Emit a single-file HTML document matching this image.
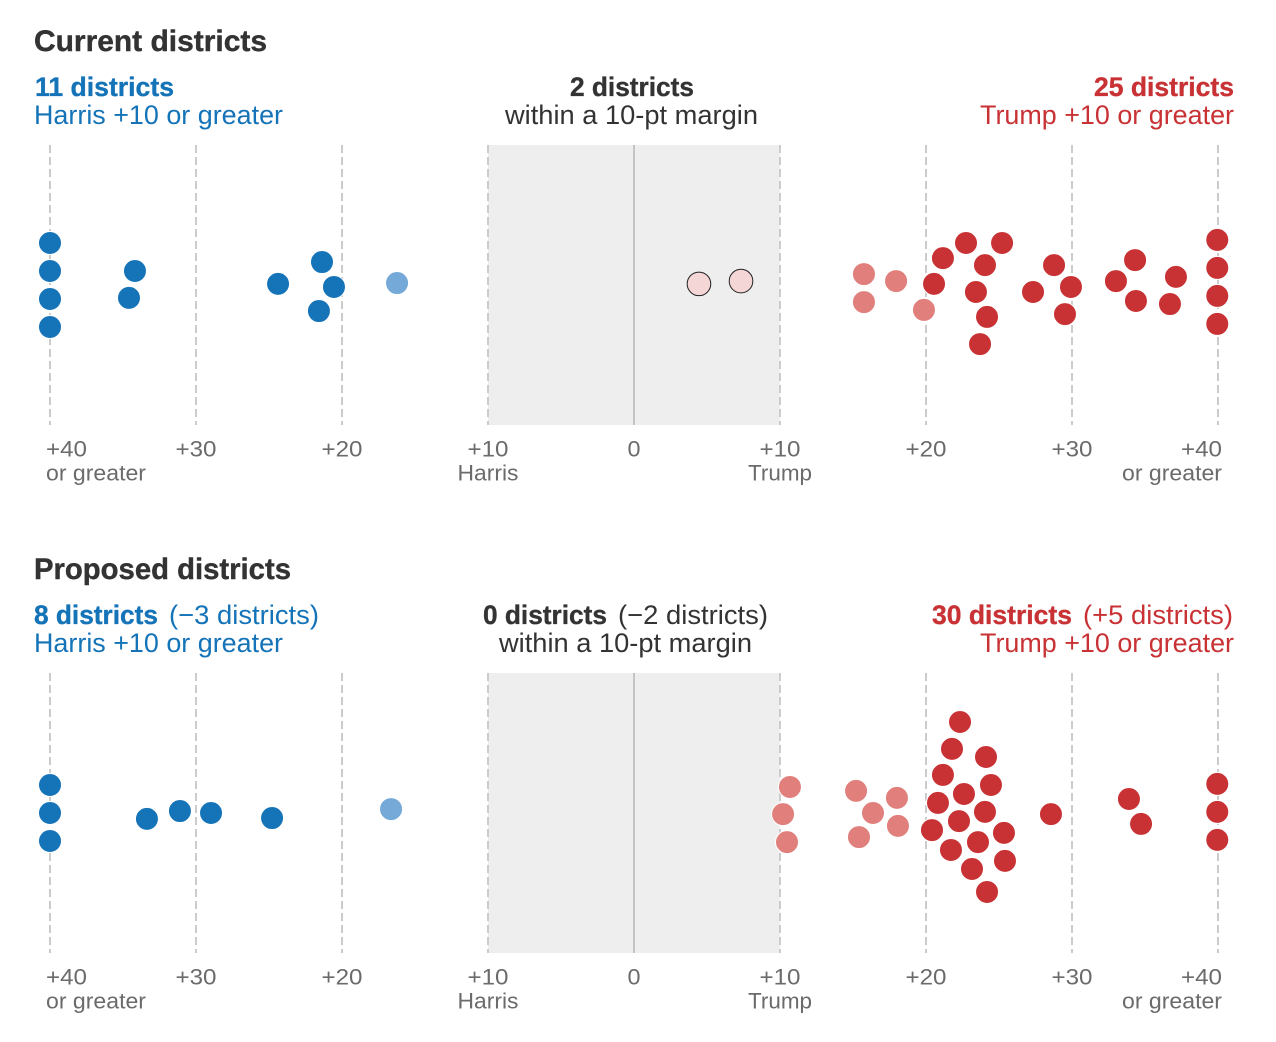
<!DOCTYPE html>
<html lang="en">
<head>
<meta charset="utf-8">
<title>Current and proposed districts</title>
<style>
  html, body { margin: 0; padding: 0; background: #fff; }
  svg { display: block; font-family: "Liberation Sans", Arial, sans-serif; }
  .title { font-size: 30px; font-weight: 700; fill: #333; stroke: #333; stroke-width: 0.4px; }
  .head { font-size: 27px; }
  .b { font-weight: 700; stroke-width: 0.35px; }
  .blue { fill: #1573b8; }
  .blue.b { stroke: #1573b8; }
  .red { fill: #c83235; }
  .red.b { stroke: #c83235; }
  .dark { fill: #333; }
  .dark.b { stroke: #333; }
  .tick { font-size: 22.5px; fill: #6b6b6b; }
</style>
</head>
<body>
<svg id="chart" width="1276" height="1042" viewBox="0 0 1276 1042" xmlns="http://www.w3.org/2000/svg">
  <rect width="1276" height="1042" fill="#fff"/>

  <text class="title" x="34" y="51" textLength="233" lengthAdjust="spacingAndGlyphs">Current districts</text>
  <text class="head b blue" x="35" y="96" textLength="139" lengthAdjust="spacingAndGlyphs">11 districts</text>
  <text class="head blue" x="34" y="124" textLength="249" lengthAdjust="spacingAndGlyphs">Harris +10 or greater</text>
  <text class="head b dark" x="570" y="96" textLength="124" lengthAdjust="spacingAndGlyphs">2 districts</text>
  <text class="head dark" x="505" y="124" textLength="253" lengthAdjust="spacingAndGlyphs">within a 10-pt margin</text>
  <text class="head b red" x="1094" y="96" textLength="140" lengthAdjust="spacingAndGlyphs">25 districts</text>
  <text class="head red" x="980" y="124" textLength="254" lengthAdjust="spacingAndGlyphs">Trump +10 or greater</text>

  <text class="title" x="34" y="579" textLength="257" lengthAdjust="spacingAndGlyphs">Proposed districts</text>
  <text class="head b blue" x="34" y="624" textLength="124" lengthAdjust="spacingAndGlyphs">8 districts</text>
  <text class="head blue" x="169" y="624" textLength="150" lengthAdjust="spacingAndGlyphs">(−3 districts)</text>
  <text class="head blue" x="34" y="652" textLength="249" lengthAdjust="spacingAndGlyphs">Harris +10 or greater</text>
  <text class="head b dark" x="483" y="624" textLength="124" lengthAdjust="spacingAndGlyphs">0 districts</text>
  <text class="head dark" x="618" y="624" textLength="150" lengthAdjust="spacingAndGlyphs">(−2 districts)</text>
  <text class="head dark" x="499" y="652" textLength="253" lengthAdjust="spacingAndGlyphs">within a 10-pt margin</text>
  <text class="head b red" x="932" y="624" textLength="140" lengthAdjust="spacingAndGlyphs">30 districts</text>
  <text class="head red" x="1083" y="624" textLength="150" lengthAdjust="spacingAndGlyphs">(+5 districts)</text>
  <text class="head red" x="980" y="652" textLength="254" lengthAdjust="spacingAndGlyphs">Trump +10 or greater</text>
</svg>

<script>
// Axis ticks: signed margin (negative = Harris, positive = Trump)
const tickValues = [-40, -30, -20, -10, 0, 10, 20, 30, 40];
const tickLabels = ['+40', '+30', '+20', '+10', '0', '+10', '+20', '+30', '+40'];

// Current districts: signed margin and swarm lane (in dot spacings from the centre line)
const currentHarrisMargins = [-40, -40, -40, -40, -34.18, -34.59, -24.38, -21.37, -20.55, -21.58];
const currentHarrisLanes = [-1.5, -0.5, 0.5, 1.5, -0.5, 0.46, -0.04, -0.82, 0.07, 0.93];
const currentLeanHarrisMargins = [-16.23];
const currentLeanHarrisLanes = [-0.07];
const currentTossupMargins = [4.45, 7.33];
const currentTossupLanes = [-0.04, -0.14];
const currentLeanTrumpMargins = [15.75, 15.75, 17.95, 19.86];
const currentLeanTrumpLanes = [-0.39, 0.61, -0.14, 0.89];
const currentTrumpMargins = [20.55, 21.16, 22.74, 24.04, 25.21, 23.42, 24.18, 23.7, 27.33, 28.77, 29.93, 29.52, 33.01, 34.32, 34.38, 36.71, 37.12, 39.95, 39.95, 39.95, 39.95];
const currentTrumpLanes = [-0.04, -0.96, -1.5, -0.71, -1.5, 0.25, 1.14, 2.11, 0.25, -0.71, 0.07, 1.04, -0.14, -0.89, 0.57, 0.68, -0.29, -1.61, -0.61, 0.39, 1.39];

// Proposed districts
const proposedHarrisMargins = [-40, -40, -40, -33.36, -31.1, -28.97, -24.79];
const proposedHarrisLanes = [-1, 0, 1, 0.21, -0.07, 0, 0.18];
const proposedLeanHarrisMargins = [-16.64];
const proposedLeanHarrisLanes = [-0.14];
const proposedTossupMargins = [];
const proposedTossupLanes = [];
const proposedLeanTrumpMargins = [10.68, 10.21, 10.48, 15.21, 16.37, 15.41, 18.01, 18.08];
const proposedLeanTrumpLanes = [-0.93, 0.04, 1.04, -0.79, 0, 0.86, -0.54, 0.46];
const proposedTrumpMargins = [22.33, 21.78, 24.11, 21.16, 24.45, 22.6, 20.82, 24.04, 22.26, 20.41, 25.34, 23.56, 21.71, 25.41, 23.15, 24.18, 28.56, 33.9, 34.73, 39.95, 39.95, 39.95];
const proposedTrumpLanes = [-3.25, -2.29, -2, -1.36, -1, -0.68, -0.36, -0.04, 0.29, 0.61, 0.71, 1.04, 1.32, 1.71, 2, 2.82, 0.04, -0.5, 0.39, -1.04, -0.04, 0.96];

const NS = 'http://www.w3.org/2000/svg';
const svg = document.getElementById('chart');
const PLOT_HEIGHT = 280;
const xScale = v => 634 + 14.6 * v;

function make(tag, attrs, parent) {
  const el = document.createElementNS(NS, tag);
  for (const k in attrs) el.setAttribute(k, attrs[k]);
  parent.appendChild(el);
  return el;
}

function label(parent, text, x, y, anchor, width, name) {
  const el = make('text', { class: 'tick', x: x, y: y, 'text-anchor': anchor, textLength: width, lengthAdjust: 'spacingAndGlyphs' }, parent);
  el.textContent = text;
  
  
}

function drawPanel(prefix, top, groups) {
  const g = make('g', {}, svg);
  
  
  const centre = top + PLOT_HEIGHT / 2;
  const yScale = lane => centre + 28 * lane;

  const band = make('rect', { x: xScale(-10), y: top, width: xScale(10) - xScale(-10), height: PLOT_HEIGHT, fill: '#eeeeee' }, g);
  
  

  tickValues.forEach((v, i) => {
    const line = make('line', { x1: xScale(v), x2: xScale(v), y1: top, y2: top + PLOT_HEIGHT, stroke: v === 0 ? '#c4c4c4' : '#cccccc', 'stroke-width': 2 }, g);
    if (v !== 0) line.setAttribute('stroke-dasharray', '8 4');
    
    

    const text = tickLabels[i];
    const w = text.length > 1 ? 41 : 13;
    let x = xScale(v), anchor = 'middle';
    if (i === 0) { x = xScale(v) - 4; anchor = 'start'; }
    if (i === tickValues.length - 1) { x = xScale(v) + 4; anchor = 'end'; }
    label(g, text, x, top + 311.5, anchor, w, prefix + '-tick-label');
  });

  label(g, 'or greater', xScale(-40) - 4, top + 335.5, 'start', 100, prefix + '-left-end-label');
  label(g, 'Harris', xScale(-10), top + 335.5, 'middle', 61, prefix + '-harris-label');
  label(g, 'Trump', xScale(10), top + 335.5, 'middle', 64, prefix + '-trump-label');
  label(g, 'or greater', xScale(40) + 4, top + 335.5, 'end', 100, prefix + '-right-end-label');

  groups.forEach(group => {
    group.margins.forEach((m, i) => {
      const dot = make('circle', {
        cx: xScale(m),
        cy: yScale(group.lanes[i]),
        r: group.r,
        fill: group.fill,
        stroke: group.stroke,
        'stroke-width': group.sw
      }, g);
      
      
    });
  });
}

const BLUE = { fill: '#1573b8', stroke: '#fff', sw: 1, r: 11.5 };
const LIGHT_BLUE = { fill: '#74a9d8', stroke: '#fff', sw: 1, r: 11.5 };
const PINK = { fill: '#f4d6d6', stroke: '#222', sw: 1, r: 11.8 };
const LIGHT_RED = { fill: '#e07f7c', stroke: '#fff', sw: 1, r: 11.5 };
const RED = { fill: '#c83235', stroke: '#fff', sw: 1, r: 11.5 };

drawPanel('current', 145, [
  Object.assign({ name: 'harris', margins: currentHarrisMargins, lanes: currentHarrisLanes }, BLUE),
  Object.assign({ name: 'lean-harris', margins: currentLeanHarrisMargins, lanes: currentLeanHarrisLanes }, LIGHT_BLUE),
  Object.assign({ name: 'tossup', margins: currentTossupMargins, lanes: currentTossupLanes }, PINK),
  Object.assign({ name: 'lean-trump', margins: currentLeanTrumpMargins, lanes: currentLeanTrumpLanes }, LIGHT_RED),
  Object.assign({ name: 'trump', margins: currentTrumpMargins, lanes: currentTrumpLanes }, RED)
]);

drawPanel('proposed', 673, [
  Object.assign({ name: 'harris', margins: proposedHarrisMargins, lanes: proposedHarrisLanes }, BLUE),
  Object.assign({ name: 'lean-harris', margins: proposedLeanHarrisMargins, lanes: proposedLeanHarrisLanes }, LIGHT_BLUE),
  Object.assign({ name: 'tossup', margins: proposedTossupMargins, lanes: proposedTossupLanes }, PINK),
  Object.assign({ name: 'lean-trump', margins: proposedLeanTrumpMargins, lanes: proposedLeanTrumpLanes }, LIGHT_RED),
  Object.assign({ name: 'trump', margins: proposedTrumpMargins, lanes: proposedTrumpLanes }, RED)
]);
</script>
</body>
</html>
